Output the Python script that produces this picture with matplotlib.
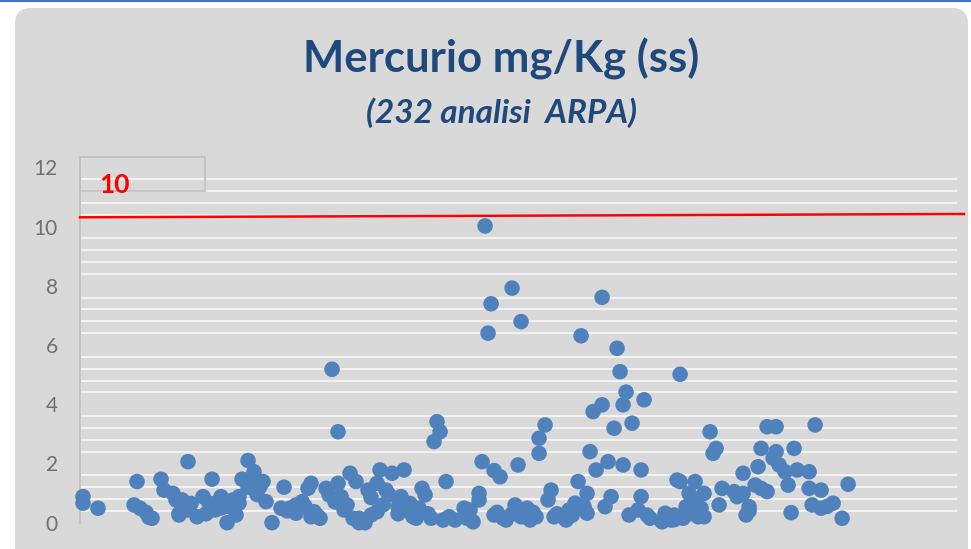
import matplotlib
matplotlib.use("Agg")
import matplotlib.pyplot as plt
from matplotlib.patches import FancyBboxPatch, Rectangle
from matplotlib.lines import Line2D
from matplotlib.transforms import IdentityTransform
import numpy as np

plt.rcParams['font.family'] = ['Lato', 'DejaVu Sans']

# dati: posizione del campione e concentrazione di mercurio (mg/Kg ss)
campioni = [1, 1, 6, 18, 19, 20, 22, 23, 24, 27,
            28, 31, 32, 33, 33, 34, 35, 36, 36, 37,
            39, 41, 42, 43, 44, 45, 46, 47, 47, 49,
            49, 51, 52, 53, 53, 54, 55, 56, 56, 57,
            58, 59, 60, 61, 62, 64, 67, 68, 69, 70,
            72, 72, 74, 75, 76, 77, 77, 78, 79, 80,
            82, 83, 84, 85, 86, 86, 87, 88, 89, 90,
            91, 92, 93, 93, 95, 96, 97, 97, 99, 99,
            100, 101, 102, 103, 104, 106, 106, 107, 108, 109,
            110, 111, 112, 113, 114, 115, 116, 117, 118, 119,
            120, 121, 122, 123, 125, 128, 129, 129, 130, 131,
            133, 133, 134, 135, 136, 137, 138, 138, 139, 140,
            141, 142, 144, 144, 145, 146, 147, 147, 148, 149,
            150, 151, 151, 152, 153, 153, 155, 156, 157, 158,
            159, 161, 162, 163, 164, 165, 166, 167, 167, 168,
            169, 169, 170, 171, 172, 174, 174, 175, 176, 177,
            178, 179, 180, 181, 181, 182, 183, 184, 186, 187,
            187, 188, 189, 190, 194, 194, 195, 196, 197, 198,
            198, 199, 200, 200, 201, 202, 203, 203, 204, 205,
            205, 206, 207, 208, 208, 210, 211, 212, 213, 214,
            218, 219, 221, 221, 222, 223, 223, 225, 226, 227,
            227, 229, 229, 231, 232, 232, 233, 235, 236, 237,
            238, 239, 243, 243, 244, 245, 247, 247, 249, 251,
            254, 256]

mercurio = [0.88, 0.66, 0.49, 0.60, 1.39, 0.49, 0.35, 0.18, 0.15, 1.47,
            1.10, 0.99, 0.77, 0.26, 0.31, 0.77, 0.55, 2.06, 0.43, 0.65,
            0.20, 0.88, 0.30, 0.66, 1.47, 0.43, 0.70, 0.88, 0.50, 0.00,
            0.55, 0.77, 0.26, 0.66, 0.88, 1.47, 1.44, 1.20, 2.10, 1.33,
            1.72, 0.95, 1.22, 1.39, 0.71, 0.00, 0.49, 1.20, 0.40, 0.49,
            0.32, 0.60, 0.71, 0.55, 1.16, 1.33, 0.20, 0.37, 0.25, 0.15,
            1.16, 0.94, 5.18, 0.70, 3.07, 1.33, 0.88, 0.43, 0.60, 1.67,
            0.15, 1.39, 0.00, 0.15, 0.00, 1.10, 0.85, 0.26, 0.37, 1.33,
            1.78, 0.60, 1.10, 0.94, 1.67, 0.54, 0.30, 0.88, 1.78, 0.43,
            0.65, 0.20, 0.15, 0.49, 1.16, 0.94, 0.30, 0.15, 2.74, 3.41,
            3.07, 0.09, 1.39, 0.20, 0.09, 0.49, 0.15, 0.30, 0.43, 0.03,
            0.99, 0.77, 2.06, 10.02, 6.40, 7.39, 1.76, 0.26, 0.35, 1.55,
            0.15, 0.09, 7.92, 0.30, 0.60, 1.95, 6.79, 0.20, 0.43, 0.49,
            0.09, 0.26, 0.35, 0.20, 2.85, 2.34, 3.30, 0.77, 1.10, 0.20,
            0.30, 0.20, 0.09, 0.43, 0.25, 0.66, 1.39, 6.31, 0.49, 0.55,
            0.32, 0.99, 2.40, 3.75, 1.78, 7.61, 3.98, 0.54, 2.06, 0.88,
            3.19, 5.89, 5.10, 3.98, 1.95, 4.41, 0.26, 3.36, 0.43, 1.78,
            0.88, 4.15, 0.26, 0.15, 0.03, 0.05, 0.32, 0.20, 0.09, 0.10,
            0.26, 1.44, 1.39, 5.01, 0.15, 0.54, 0.30, 0.99, 0.60, 1.39,
            0.77, 0.20, 0.49, 0.20, 0.99, 3.07, 2.34, 2.51, 0.60, 1.16,
            1.05, 0.88, 0.99, 1.67, 0.26, 0.40, 0.54, 1.27, 1.89, 2.51,
            1.16, 1.05, 3.24, 2.18, 3.24, 2.40, 1.95, 1.72, 1.27, 0.34,
            2.51, 1.78, 1.72, 1.16, 0.60, 3.30, 0.49, 1.10, 0.55, 0.66,
            0.15, 1.30]

y_ticks = [0, 2, 4, 6, 8, 10, 12]
titolo = "Mercurio mg/Kg (ss)"
sottotitolo = "(232 analisi  ARPA)"
etichetta_limite = "10"

fig = plt.figure(figsize=(9.71, 5.49), dpi=100)
fig.patch.set_facecolor('white')

# sfondo grigio arrotondato (in pixel)
sfondo = FancyBboxPatch((15, -20), 953, 561,
                        boxstyle="round,pad=0,rounding_size=16",
                        transform=IdentityTransform(),
                        facecolor='#D9D9D9', edgecolor='none', zorder=-5)
fig.patches.append(sfondo)
fig.lines.append(Line2D([0, 1], [0.9985, 0.9985], transform=fig.transFigure,
                        color='#4472C4', linewidth=1.5))

ax = fig.add_axes([0.0824, 0.0479, 0.9032, 0.6474])
ax.set_zorder(2)
ax.set_facecolor('none')

# griglia secondaria ogni 0.4 (senza le linee principali)
minori = [v for v in np.arange(0.4, 12.0, 0.4) if abs(v / 2 - round(v / 2)) > 0.01]
for v in minori:
    ax.axhline(v, color='#F2F2F2', linewidth=1.5, zorder=1)

ax.scatter(campioni, mercurio, s=125, color='#4F81BD', edgecolors='none',
           zorder=3, clip_on=False)

ax.set_xlim(0, 292.3)
ax.set_ylim(0, 12)
ax.set_yticks(y_ticks)
ax.set_xticks([])
ax.tick_params(axis='y', length=0, pad=16, labelsize=15, labelcolor='#707070')
for s in ['top', 'right', 'bottom']:
    ax.spines[s].set_visible(False)
ax.spines['left'].set_color('#BFBFBF')
ax.spines['left'].set_linewidth(1.2)

# linea rossa del limite
fig.lines.append(Line2D([0.0824, 0.9928], [0.6042, 0.6102], transform=fig.transFigure,
                        color='#FF0000', linewidth=1.8, zorder=4))

# riquadro con etichetta "10"
fig.patches.append(Rectangle((0.0824, 0.6521), 0.1287, 0.0619, transform=fig.transFigure,
                             facecolor='none', edgecolor='#BFBFBF', linewidth=1.2,
                             zorder=5))
fig.text(0.1179, 0.663, etichetta_limite, color='#FF0000', fontsize=19,
         fontweight='bold', ha='center', va='center', zorder=6)

fig.text(0.516, 0.893, titolo, color='#1F497D', fontsize=31.5, fontweight='bold',
         ha='center', va='center')
fig.text(0.516, 0.794, sottotitolo, color='#1F497D', fontsize=24, fontweight='bold',
         style='italic', ha='center', va='center')

fig.savefig('out.png', dpi=100)
